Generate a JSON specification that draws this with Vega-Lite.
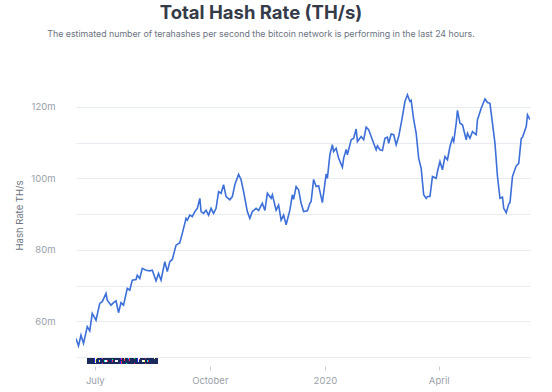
{
  "$schema": "https://vega.github.io/schema/vega-lite/v6.json",
  "autosize": "none",
  "width": 454,
  "height": 268,
  "padding": {"left": 76, "top": 89, "right": 22, "bottom": 35},
  "background": "white",
  "config": {
    "font": "Inter",
    "view": {"stroke": null}
  },
  "title": {
    "text": "Total Hash Rate (TH/s)",
    "subtitle": "The estimated number of terahashes per second the bitcoin network is performing in the last 24 hours.",
    "anchor": "middle",
    "frame": "group",
    "dx": -42,
    "offset": 50,
    "font": "Inter",
    "fontSize": 18.5,
    "fontWeight": 700,
    "color": "#353b48",
    "subtitleFont": "Inter",
    "subtitleFontSize": 8.8,
    "subtitleColor": "#6b7280",
    "subtitlePadding": 8
  },
  "data": {
    "values": [
      {"date": "2019-06-16", "hash_rate": 55.2},
      {"date": "2019-06-18", "hash_rate": 53.1},
      {"date": "2019-06-20", "hash_rate": 56.1},
      {"date": "2019-06-22", "hash_rate": 53.8},
      {"date": "2019-06-25", "hash_rate": 58.5},
      {"date": "2019-06-27", "hash_rate": 57.3},
      {"date": "2019-06-29", "hash_rate": 62.2},
      {"date": "2019-07-02", "hash_rate": 60.3},
      {"date": "2019-07-05", "hash_rate": 65.0},
      {"date": "2019-07-07", "hash_rate": 65.5},
      {"date": "2019-07-10", "hash_rate": 67.8},
      {"date": "2019-07-11", "hash_rate": 65.9},
      {"date": "2019-07-14", "hash_rate": 64.5},
      {"date": "2019-07-16", "hash_rate": 65.2},
      {"date": "2019-07-18", "hash_rate": 65.7},
      {"date": "2019-07-20", "hash_rate": 62.4},
      {"date": "2019-07-22", "hash_rate": 65.2},
      {"date": "2019-07-24", "hash_rate": 64.5},
      {"date": "2019-07-27", "hash_rate": 69.2},
      {"date": "2019-07-29", "hash_rate": 68.7},
      {"date": "2019-07-31", "hash_rate": 71.5},
      {"date": "2019-08-03", "hash_rate": 71.7},
      {"date": "2019-08-04", "hash_rate": 72.9},
      {"date": "2019-08-06", "hash_rate": 72.0},
      {"date": "2019-08-08", "hash_rate": 74.8},
      {"date": "2019-08-11", "hash_rate": 74.3},
      {"date": "2019-08-14", "hash_rate": 74.1},
      {"date": "2019-08-16", "hash_rate": 74.3},
      {"date": "2019-08-19", "hash_rate": 71.3},
      {"date": "2019-08-21", "hash_rate": 73.4},
      {"date": "2019-08-23", "hash_rate": 71.5},
      {"date": "2019-08-26", "hash_rate": 76.7},
      {"date": "2019-08-28", "hash_rate": 73.9},
      {"date": "2019-08-30", "hash_rate": 76.7},
      {"date": "2019-09-01", "hash_rate": 77.3},
      {"date": "2019-09-04", "hash_rate": 81.3},
      {"date": "2019-09-07", "hash_rate": 82.0},
      {"date": "2019-09-09", "hash_rate": 84.6},
      {"date": "2019-09-12", "hash_rate": 88.8},
      {"date": "2019-09-13", "hash_rate": 88.3},
      {"date": "2019-09-15", "hash_rate": 89.7},
      {"date": "2019-09-17", "hash_rate": 89.3},
      {"date": "2019-09-19", "hash_rate": 90.7},
      {"date": "2019-09-21", "hash_rate": 91.6},
      {"date": "2019-09-23", "hash_rate": 94.4},
      {"date": "2019-09-24", "hash_rate": 90.7},
      {"date": "2019-09-26", "hash_rate": 90.2},
      {"date": "2019-09-28", "hash_rate": 91.1},
      {"date": "2019-09-30", "hash_rate": 89.7},
      {"date": "2019-10-02", "hash_rate": 91.6},
      {"date": "2019-10-04", "hash_rate": 90.2},
      {"date": "2019-10-06", "hash_rate": 91.6},
      {"date": "2019-10-08", "hash_rate": 96.3},
      {"date": "2019-10-10", "hash_rate": 95.8},
      {"date": "2019-10-12", "hash_rate": 98.2},
      {"date": "2019-10-14", "hash_rate": 94.9},
      {"date": "2019-10-17", "hash_rate": 94.0},
      {"date": "2019-10-19", "hash_rate": 94.9},
      {"date": "2019-10-21", "hash_rate": 98.2},
      {"date": "2019-10-24", "hash_rate": 101.1},
      {"date": "2019-10-26", "hash_rate": 99.6},
      {"date": "2019-10-28", "hash_rate": 96.3},
      {"date": "2019-10-31", "hash_rate": 90.7},
      {"date": "2019-11-02", "hash_rate": 88.8},
      {"date": "2019-11-04", "hash_rate": 90.7},
      {"date": "2019-11-07", "hash_rate": 91.6},
      {"date": "2019-11-09", "hash_rate": 91.0},
      {"date": "2019-11-12", "hash_rate": 93.0},
      {"date": "2019-11-14", "hash_rate": 91.0},
      {"date": "2019-11-16", "hash_rate": 95.8},
      {"date": "2019-11-19", "hash_rate": 94.4},
      {"date": "2019-11-20", "hash_rate": 95.4},
      {"date": "2019-11-23", "hash_rate": 91.1},
      {"date": "2019-11-25", "hash_rate": 92.5},
      {"date": "2019-11-27", "hash_rate": 88.3},
      {"date": "2019-11-29", "hash_rate": 89.7},
      {"date": "2019-12-01", "hash_rate": 87.0},
      {"date": "2019-12-04", "hash_rate": 91.1},
      {"date": "2019-12-06", "hash_rate": 95.4},
      {"date": "2019-12-07", "hash_rate": 94.1},
      {"date": "2019-12-09", "hash_rate": 97.7},
      {"date": "2019-12-11", "hash_rate": 96.8},
      {"date": "2019-12-13", "hash_rate": 93.0},
      {"date": "2019-12-15", "hash_rate": 90.7},
      {"date": "2019-12-18", "hash_rate": 90.9},
      {"date": "2019-12-20", "hash_rate": 93.0},
      {"date": "2019-12-21", "hash_rate": 93.5},
      {"date": "2019-12-23", "hash_rate": 99.7},
      {"date": "2019-12-25", "hash_rate": 97.7},
      {"date": "2019-12-27", "hash_rate": 97.9},
      {"date": "2019-12-30", "hash_rate": 93.2},
      {"date": "2020-01-02", "hash_rate": 101.2},
      {"date": "2020-01-03", "hash_rate": 100.0},
      {"date": "2020-01-05", "hash_rate": 106.6},
      {"date": "2020-01-07", "hash_rate": 109.4},
      {"date": "2020-01-08", "hash_rate": 107.5},
      {"date": "2020-01-10", "hash_rate": 108.4},
      {"date": "2020-01-12", "hash_rate": 105.6},
      {"date": "2020-01-15", "hash_rate": 103.1},
      {"date": "2020-01-16", "hash_rate": 105.6},
      {"date": "2020-01-18", "hash_rate": 108.1},
      {"date": "2020-01-19", "hash_rate": 106.6},
      {"date": "2020-01-22", "hash_rate": 110.8},
      {"date": "2020-01-24", "hash_rate": 111.2},
      {"date": "2020-01-26", "hash_rate": 113.8},
      {"date": "2020-01-27", "hash_rate": 110.3},
      {"date": "2020-01-30", "hash_rate": 111.7},
      {"date": "2020-02-01", "hash_rate": 110.8},
      {"date": "2020-02-03", "hash_rate": 114.3},
      {"date": "2020-02-05", "hash_rate": 113.6},
      {"date": "2020-02-07", "hash_rate": 111.7},
      {"date": "2020-02-09", "hash_rate": 109.8},
      {"date": "2020-02-11", "hash_rate": 108.0},
      {"date": "2020-02-12", "hash_rate": 109.1},
      {"date": "2020-02-14", "hash_rate": 108.0},
      {"date": "2020-02-16", "hash_rate": 107.8},
      {"date": "2020-02-18", "hash_rate": 111.2},
      {"date": "2020-02-20", "hash_rate": 111.5},
      {"date": "2020-02-21", "hash_rate": 109.8},
      {"date": "2020-02-23", "hash_rate": 112.4},
      {"date": "2020-02-25", "hash_rate": 112.2},
      {"date": "2020-02-27", "hash_rate": 109.4},
      {"date": "2020-02-29", "hash_rate": 111.7},
      {"date": "2020-03-02", "hash_rate": 115.4},
      {"date": "2020-03-03", "hash_rate": 117.3},
      {"date": "2020-03-05", "hash_rate": 121.5},
      {"date": "2020-03-07", "hash_rate": 123.4},
      {"date": "2020-03-09", "hash_rate": 121.5},
      {"date": "2020-03-10", "hash_rate": 121.8},
      {"date": "2020-03-12", "hash_rate": 116.4},
      {"date": "2020-03-14", "hash_rate": 112.6},
      {"date": "2020-03-16", "hash_rate": 105.6},
      {"date": "2020-03-18", "hash_rate": 102.8},
      {"date": "2020-03-20", "hash_rate": 95.4},
      {"date": "2020-03-22", "hash_rate": 94.4},
      {"date": "2020-03-23", "hash_rate": 94.9},
      {"date": "2020-03-25", "hash_rate": 94.9},
      {"date": "2020-03-27", "hash_rate": 100.5},
      {"date": "2020-03-30", "hash_rate": 100.0},
      {"date": "2020-03-31", "hash_rate": 101.9},
      {"date": "2020-04-02", "hash_rate": 104.7},
      {"date": "2020-04-04", "hash_rate": 102.4},
      {"date": "2020-04-06", "hash_rate": 106.1},
      {"date": "2020-04-08", "hash_rate": 105.2},
      {"date": "2020-04-10", "hash_rate": 108.9},
      {"date": "2020-04-12", "hash_rate": 111.2},
      {"date": "2020-04-13", "hash_rate": 110.3},
      {"date": "2020-04-15", "hash_rate": 115.4},
      {"date": "2020-04-16", "hash_rate": 119.0},
      {"date": "2020-04-18", "hash_rate": 115.4},
      {"date": "2020-04-20", "hash_rate": 115.0},
      {"date": "2020-04-23", "hash_rate": 110.8},
      {"date": "2020-04-24", "hash_rate": 112.6},
      {"date": "2020-04-26", "hash_rate": 111.2},
      {"date": "2020-04-28", "hash_rate": 113.1},
      {"date": "2020-05-01", "hash_rate": 112.2},
      {"date": "2020-05-02", "hash_rate": 116.4},
      {"date": "2020-05-05", "hash_rate": 119.6},
      {"date": "2020-05-08", "hash_rate": 122.2},
      {"date": "2020-05-10", "hash_rate": 121.2},
      {"date": "2020-05-12", "hash_rate": 121.0},
      {"date": "2020-05-14", "hash_rate": 115.4},
      {"date": "2020-05-16", "hash_rate": 109.8},
      {"date": "2020-05-18", "hash_rate": 100.5},
      {"date": "2020-05-20", "hash_rate": 94.4},
      {"date": "2020-05-22", "hash_rate": 94.7},
      {"date": "2020-05-23", "hash_rate": 91.6},
      {"date": "2020-05-25", "hash_rate": 90.4},
      {"date": "2020-05-27", "hash_rate": 92.8},
      {"date": "2020-05-28", "hash_rate": 93.2},
      {"date": "2020-05-30", "hash_rate": 100.5},
      {"date": "2020-06-02", "hash_rate": 103.5},
      {"date": "2020-06-04", "hash_rate": 104.2},
      {"date": "2020-06-06", "hash_rate": 111.2},
      {"date": "2020-06-07", "hash_rate": 111.5},
      {"date": "2020-06-10", "hash_rate": 114.5},
      {"date": "2020-06-11", "hash_rate": 117.8},
      {"date": "2020-06-13", "hash_rate": 116.4}
    ]
  },
  "layer": [
    {
      "mark": {"type": "line", "color": "#3c6fd8", "strokeWidth": 1.6, "clip": true},
      "encoding": {
        "x": {
          "field": "date",
          "type": "temporal",
          "scale": {
            "type": "utc",
            "domain": [
              {"year": 2019, "month": 6, "date": 16, "utc": true},
              {"year": 2020, "month": 6, "date": 13, "utc": true}
            ]
          },
          "axis": {
            "title": null,
            "values": [
              {"year": 2019, "month": 7, "date": 1, "utc": true},
              {"year": 2019, "month": 10, "date": 1, "utc": true},
              {"year": 2020, "month": 1, "date": 1, "utc": true},
              {"year": 2020, "month": 4, "date": 1, "utc": true}
            ],
            "labelExpr": "utcmonth(datum.value) == 0 ? utcFormat(datum.value, '%Y') : utcFormat(datum.value, '%B')",
            "labelOverlap": false,
            "domain": false,
            "grid": false,
            "offset": 9,
            "tickSize": 4,
            "tickColor": "#c8ccd4",
            "labelFont": "Inter",
            "labelFontSize": 9.5,
            "labelColor": "#9aa0ab",
            "labelPadding": 5
          }
        },
        "y": {
          "field": "hash_rate",
          "type": "quantitative",
          "scale": {"domain": [50, 125], "nice": false, "zero": false},
          "axis": {
            "title": null,
            "values": [50, 60, 70, 80, 90, 100, 110, 120],
            "labels": false,
            "domain": false,
            "ticks": false,
            "grid": true,
            "gridColor": "#e8ebf1",
            "gridWidth": 1
          }
        }
      }
    },
    {
      "mark": {"type": "line", "opacity": 0},
      "encoding": {
        "x": {"field": "date", "type": "temporal"},
        "y": {
          "field": "hash_rate",
          "type": "quantitative",
          "axis": {
            "orient": "left",
            "title": "Hash Rate TH/s",
            "titleFont": "Inter",
            "titleFontSize": 9.5,
            "titleFontWeight": "normal",
            "titleColor": "#6b7280",
            "titleX": -57,
            "titleY": 126,
            "titleAngle": -90,
            "titleAlign": "center",
            "titleBaseline": "middle",
            "values": [60, 80, 100, 120],
            "labelExpr": "datum.value + 'm'",
            "labelOverlap": false,
            "grid": false,
            "domain": false,
            "ticks": false,
            "labelPadding": 21,
            "labelFont": "Inter",
            "labelFontSize": 9.5,
            "labelColor": "#9aa0ab"
          }
        }
      }
    },
    {
      "mark": {"type": "text", "text": "BLOCKCHAIN.COM", "align": "left", "baseline": "middle", "font": "Inter", "fontSize": 7.5, "fontWeight": "bold", "color": "#1b2a5c", "clip": false},
      "encoding": {
        "x": {"datum": {"year": 2019, "month": 6, "date": 25, "utc": true}, "type": "temporal"},
        "y": {"datum": 48.7, "type": "quantitative", "axis": null}
      }
    }
  ],
  "resolve": {"axis": {"y": "independent"}}
}
